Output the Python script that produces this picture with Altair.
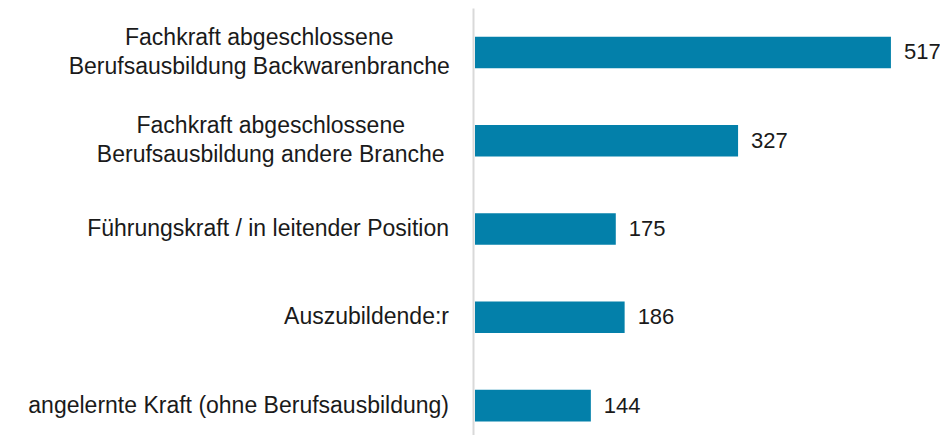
import altair as alt
import pandas as pd

categories = [
    "Fachkraft abgeschlossene\nBerufsausbildung Backwarenbranche",
    "Fachkraft abgeschlossene\nBerufsausbildung andere Branche",
    "Führungskraft / in leitender Position",
    "Auszubildende:r",
    "angelernte Kraft (ohne Berufsausbildung)",
]
values = [517, 327, 175, 186, 144]

df = pd.DataFrame({"kategorie": categories, "anzahl": values})

FONT = "Liberation Sans, Arial, sans-serif"
FONT_SIZE = 23
VALUE_FONT_SIZE = 22
TEXT_COLOR = "#1a1a1a"
BAR_COLOR = "#0380AA"
LABEL_GAP = 26          # px between label block and axis
CHAR_W = 11.5           # approx. average glyph width at FONT_SIZE
LINE_H = 29

y_enc = alt.Y(
    "kategorie:N",
    sort=categories,
    title=None,
    scale=alt.Scale(paddingInner=0.643, paddingOuter=0.2395, align=0.678),
    axis=alt.Axis(
        labels=False,
        ticks=False,
        domainColor="#D9D9D9",
        domainWidth=2,
        offset=2,
        grid=False,
    ),
)
x_enc = alt.X(
    "anzahl:Q",
    axis=None,
    scale=alt.Scale(domain=[0, 578], nice=False),
)

base = alt.Chart(df).encode(y=y_enc)

bars = base.mark_bar(color=BAR_COLOR).encode(x=x_enc)
values_text = base.mark_text(
    align="left",
    baseline="middle",
    dx=13,
    font=FONT,
    fontSize=VALUE_FONT_SIZE,
    color=TEXT_COLOR,
).encode(x=x_enc, text="anzahl:Q")

# single-line category labels: right-aligned next to the axis
single_labels = (
    base.transform_filter("indexof(datum.kategorie, '\\n') < 0")
    .mark_text(
        align="right",
        baseline="middle",
        font=FONT,
        fontSize=FONT_SIZE,
        color=TEXT_COLOR,
    )
    .encode(x=alt.value(-LABEL_GAP), text="kategorie:N")
)

# two-line category labels: lines centred on each other, block right edge next to the axis
multi_labels = (
    base.transform_filter("indexof(datum.kategorie, '\\n') >= 0")
    .transform_calculate(
        maxlen="max(length(split(datum.kategorie, '\\n')[0]), length(split(datum.kategorie, '\\n')[1]))"
    )
    .transform_calculate(lx=f"-{LABEL_GAP} - {CHAR_W} * datum.maxlen / 2")
    .mark_text(
        align="center",
        baseline="middle",
        lineBreak="\n",
        lineHeight=LINE_H,
        dy=-LINE_H / 2,
        font=FONT,
        fontSize=FONT_SIZE,
        color=TEXT_COLOR,
    )
    .encode(x=alt.X("lx:Q", scale=None, axis=None), text="kategorie:N")
)

chart = (
    alt.layer(bars, values_text, single_labels, multi_labels)
    .resolve_scale(x="independent")
    .properties(
        width=465,
        height=427,
        autosize=alt.AutoSizeParams(type="none"),
        padding={"left": 467, "top": 0, "right": 0, "bottom": 0},
        background="white",
    )
    .configure_view(strokeWidth=0)
)

chart.save("out.html", embed_options={"renderer": "svg", "actions": False})
